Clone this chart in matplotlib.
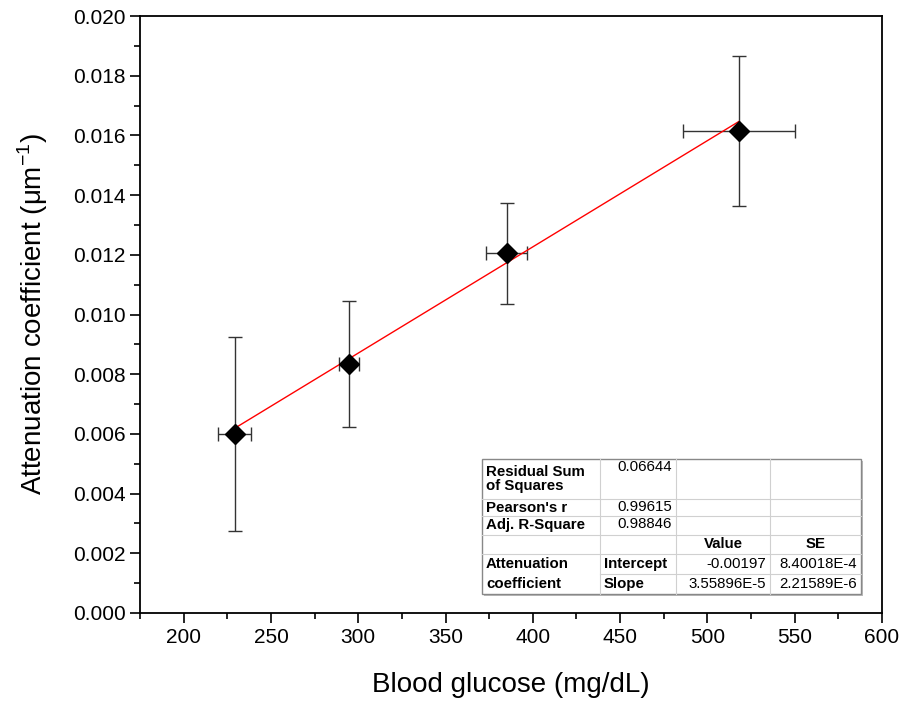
import matplotlib
matplotlib.use('Agg')
import matplotlib.pyplot as plt
from matplotlib.ticker import MultipleLocator
from matplotlib.patches import Rectangle
from matplotlib.lines import Line2D
import numpy as np

plt.rcParams['font.family'] = ['Liberation Sans', 'DejaVu Sans']
plt.rcParams['mathtext.fontset'] = 'custom'
plt.rcParams['mathtext.rm'] = 'Liberation Sans'

# data
glucose = [229.3, 294.6, 385.0, 518.0]
glucose_err = [9.5, 5.7, 11.7, 32.0]
atten = [0.0060, 0.00834, 0.01205, 0.01615]
atten_err = [0.00325, 0.0021, 0.0017, 0.0025]

# linear fit
intercept = -0.00197
slope = 3.55896e-5

# table contents
table_rows = [
    ['Residual Sum\nof Squares', '0.06644', '', ''],
    ["Pearson's r", '0.99615', '', ''],
    ['Adj. R-Square', '0.98846', '', ''],
    ['', '', 'Value', 'SE'],
    ['Attenuation', 'Intercept', '-0.00197', '8.40018E-4'],
    ['coefficient', 'Slope', '3.55896E-5', '2.21589E-6'],
]

W, H = 904, 706
fig = plt.figure(figsize=(W / 100, H / 100), dpi=100)
ax = fig.add_axes([140 / W, 1 - 613 / H, (882 - 140) / W, (613 - 16) / H])

ax.errorbar(glucose, atten, xerr=glucose_err, yerr=atten_err, fmt='none',
            ecolor='#333333', elinewidth=1.0, capsize=5, capthick=1.0, zorder=2)
xfit = np.array([glucose[0], glucose[-1]])
ax.plot(xfit, intercept + slope * xfit, color='red', lw=1.0, zorder=3)
ax.plot(glucose, atten, 'D', color='black', markersize=10, zorder=4)

ax.set_xlim(175, 600)
ax.set_ylim(0, 0.020)
ax.xaxis.set_major_locator(MultipleLocator(50))
ax.xaxis.set_minor_locator(MultipleLocator(25))
ax.yaxis.set_major_locator(MultipleLocator(0.002))
ax.yaxis.set_minor_locator(MultipleLocator(0.001))
ax.yaxis.set_major_formatter(plt.FuncFormatter(lambda v, p: '%.3f' % v))
ax.tick_params(which='major', direction='out', length=7, width=1.2, labelsize=15)
ax.tick_params(which='minor', direction='out', length=4, width=1.2)
for s in ax.spines.values():
    s.set_linewidth(1.3)
ax.set_xlabel('Blood glucose (mg/dL)', fontsize=20, labelpad=18)
ax.set_ylabel('Attenuation coefficient (\u03bcm$^{\\mathregular{-1}}$)', fontsize=20, labelpad=16)

# stats table drawn in pixel coordinates
def fx(px):
    return px / W

def fy(py):
    return 1 - py / H

cols = [482, 600, 676, 770, 861]
rows = [459, 499, 516, 535, 554, 574, 594]
fig.patches.append(Rectangle((fx(cols[0]) + 2 / W, fy(rows[-1]) - 2 / H),
                             (cols[-1] - cols[0]) / W, (rows[-1] - rows[0]) / H,
                             transform=fig.transFigure, facecolor='#bbbbbb',
                             edgecolor='none', zorder=5))
fig.patches.append(Rectangle((fx(cols[0]), fy(rows[-1])),
                             (cols[-1] - cols[0]) / W, (rows[-1] - rows[0]) / H,
                             transform=fig.transFigure, facecolor='white',
                             edgecolor='#888888', lw=1.0, zorder=6))
for c in cols[1:-1]:
    fig.lines.append(Line2D([fx(c), fx(c)], [fy(rows[0]), fy(rows[-1])],
                            transform=fig.transFigure, color='#d0d0d0', lw=0.8, zorder=7))
for i, r in enumerate(rows[1:-1]):
    x0 = cols[1] if i == 4 else cols[0]
    fig.lines.append(Line2D([fx(x0), fx(cols[-1])], [fy(r), fy(r)],
                            transform=fig.transFigure, color='#d0d0d0', lw=0.8, zorder=7))

for i, row in enumerate(table_rows):
    ytop, ybot = rows[i], rows[i + 1]
    for j, txt in enumerate(row):
        if not txt:
            continue
        bold = j == 0 or (j == 1 and i >= 4) or i == 3
        if j == 0 or (j == 1 and i >= 4):
            x, ha = cols[j] + 4, 'left'
        elif i == 3:
            x, ha = (cols[j] + cols[j + 1]) / 2, 'center'
        else:
            x, ha = cols[j + 1] - 4, 'right'
        if j == 1 and i < 3:
            y, va = ytop + 1, 'top'
        else:
            y, va = (ytop + ybot) / 2, 'center'
        fig.text(fx(x), fy(y), txt, ha=ha, va=va, fontsize=10.8,
                 fontweight='bold' if bold else 'normal', linespacing=1.0, zorder=8)

fig.savefig('out.png', dpi=100)
